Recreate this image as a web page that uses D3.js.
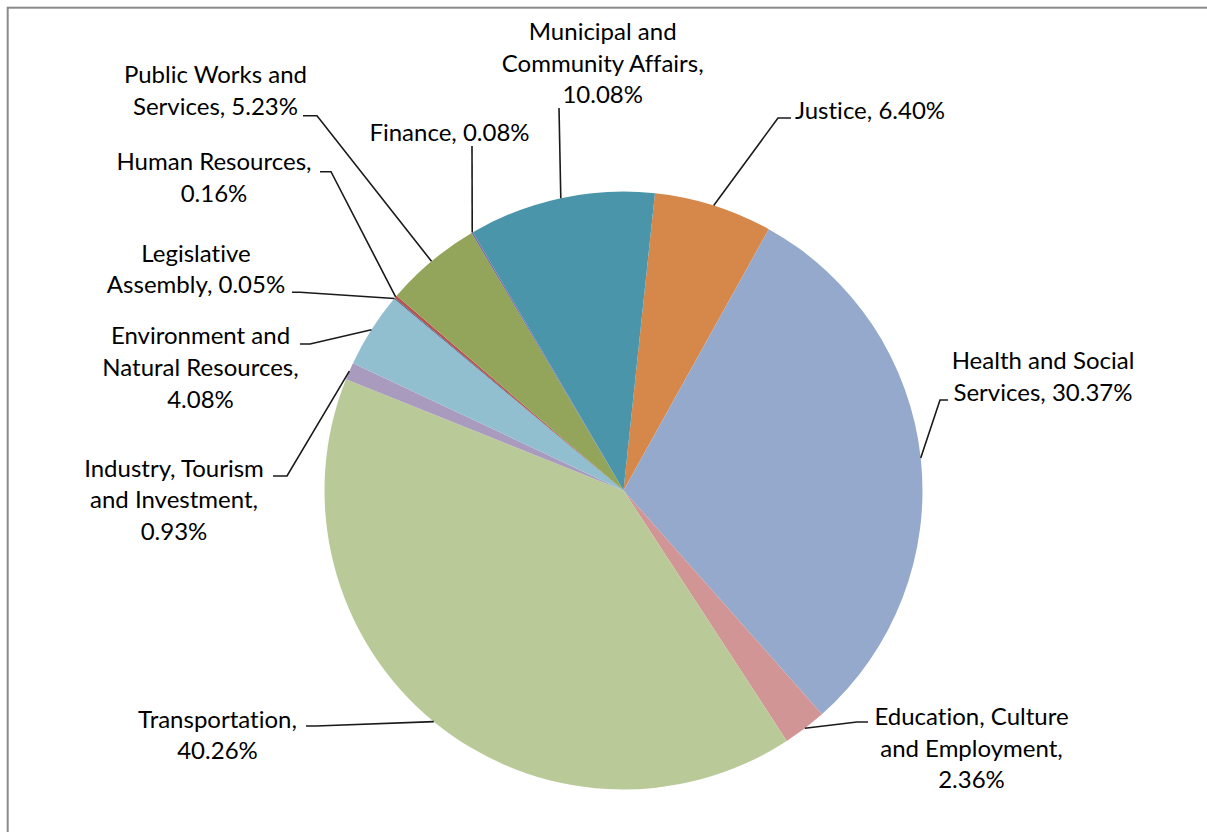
<!DOCTYPE html>
<html>
<head>
<meta charset="utf-8">
<script src="https://cdn.jsdelivr.net/npm/d3@7"></script>
<style>
  html, body { margin: 0; padding: 0; background: #fff; }
  svg { display: block; }
  text { font-family: Lato, "Open Sans", sans-serif; font-size: 24px; fill: #000;
         font-variant-ligatures: none; font-feature-settings: "liga" 0; }
</style>
</head>
<body>
<svg id="chart" width="1207" height="832"></svg>
<script>
// ---- data (clockwise order) ----
const departments = [
  "Justice",
  "Health and Social Services",
  "Education, Culture and Employment",
  "Transportation",
  "Industry, Tourism and Investment",
  "Environment and Natural Resources",
  "Legislative Assembly",
  "Human Resources",
  "Public Works and Services",
  "Finance",
  "Municipal and Community Affairs"
];
const shares = [6.40, 30.37, 2.36, 40.26, 0.93, 4.08, 0.05, 0.16, 5.23, 0.08, 10.08];
const sliceColors = ["#D6874A", "#95A9CC", "#D09594", "#B9CA98", "#A89BBE", "#92BFD0",
                     "#3C6494", "#B8514E", "#92A55A", "#7D62A0", "#4A95AA"];
// words per label line
const wordsPerLine = [[2], [3, 2], [2, 2, 1], [1, 1], [2, 2, 1], [2, 2, 1], [1, 2], [2, 1], [3, 2], [2], [2, 2, 1]];

// ---- layout ----
const cx = 623.5, cy = 490.5, R = 299;
const startDeg = 6.04;
const lineH = 31.7;
// label centre x, first baseline y, leader start [x,y], elbow x (null = straight)
const labelLayout = [
  { x: 870,   y: 119.3, sx: 791, sy: 118, ex: 778 },
  { x: 1043,  y: 369,   sx: 948, sy: 400, ex: 940 },
  { x: 971.5, y: 725,   sx: 868, sy: 722, ex: 857 },
  { x: 217.5, y: 727.5, sx: 306, sy: 726, ex: 316 },
  { x: 174,   y: 476.7, sx: 273, sy: 476, ex: 287 },
  { x: 200.5, y: 344.3, sx: 300, sy: 344, ex: 310 },
  { x: 196,   y: 261.7, sx: 292, sy: 292.3, ex: 300 },
  { x: 214,   y: 170,   sx: 320, sy: 171.7, ex: 331 },
  { x: 215.5, y: 83.3,  sx: 303, sy: 115.7, ex: 317 },
  { x: 449.5, y: 141,   sx: 472, sy: 146, ex: null },
  { x: 602.7, y: 40,    sx: 559, sy: 108, ex: null }
];

const svg = d3.select("#chart");

// frame (cropped chart border)
svg.append("rect")
  .attr("x", 7.7).attr("y", 7.7)
  .attr("width", 1300).attr("height", 900)
  .attr("fill", "none").attr("stroke", "#8a8a8a").attr("stroke-width", 2);

const a0 = startDeg * Math.PI / 180;
const pie = d3.pie().sort(null).value(d => d).startAngle(a0).endAngle(a0 + 2 * Math.PI);
const arcs = pie(shares);
const arc = d3.arc().innerRadius(0).outerRadius(R);
const edgeArc = d3.arc().innerRadius(R).outerRadius(R);

const g = svg.append("g").attr("transform", `translate(${cx},${cy})`);
g.selectAll("path.slice")
  .data(arcs)
  .join("path")
  .attr("class", "slice")
  .attr("d", arc)
  .attr("fill", (d, i) => sliceColors[i]);

// leader lines
const lineGen = d3.line();
svg.append("g").selectAll("path.leader")
  .data(arcs)
  .join("path")
  .attr("class", "leader")
  .attr("fill", "none")
  .attr("stroke", "#1a1a1a")
  .attr("stroke-width", 1.6)
  .attr("d", (d, i) => {
    const L = labelLayout[i];
    const c = edgeArc.centroid(d);
    const p = [cx + c[0], cy + c[1]];
    const pts = [[L.sx, L.sy]];
    if (L.ex !== null) pts.push([L.ex, L.sy]);
    pts.push(p);
    return lineGen(pts);
  });

// labels
const labels = svg.append("g");
departments.forEach((name, i) => {
  const words = (name + ", " + shares[i].toFixed(2) + "%").split(" ");
  const L = labelLayout[i];
  const t = labels.append("text").attr("text-anchor", "middle");
  let k = 0;
  wordsPerLine[i].forEach((n, j) => {
    t.append("tspan")
      .attr("x", L.x)
      .attr("y", L.y + j * lineH)
      .text(words.slice(k, k + n).join(" "));
    k += n;
  });
});
</script>
</body>
</html>
